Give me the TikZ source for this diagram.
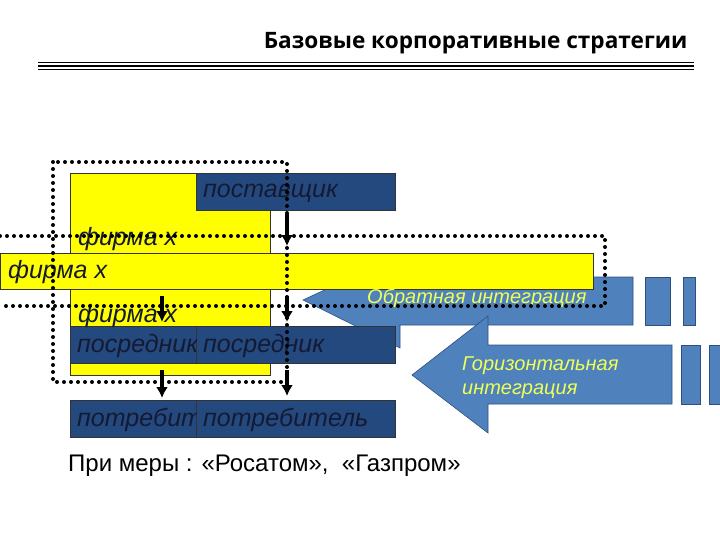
\documentclass[tikz,border=0pt]{standalone}
\usepackage{fontspec}
\usetikzlibrary{arrows.meta}
\setmainfont{Liberation Sans}
\newfontfamily\titlefont{Open Sans}
\definecolor{dkblue}{HTML}{24497E}
\definecolor{mdblue}{HTML}{4F81BD}
\definecolor{edblue}{HTML}{2F4F7F}
\definecolor{ylw}{HTML}{FFFF00}
\definecolor{ltxt}{HTML}{EEFF55}
\definecolor{dtxt}{HTML}{141A33}
\begin{document}
\begin{tikzpicture}[x=1pt,y=-1pt,
  box/.style={draw=black!80,line width=0.6pt,anchor=north west,inner sep=0pt},
  ybox/.style={box,fill=ylw},
  bbox/.style={box,fill=dkblue},
  lbl/.style={anchor=west,inner sep=0pt,font=\fontsize{25}{30}\selectfont\itshape,text=dtxt},
  albl/.style={anchor=west,inner sep=0pt,font=\fontsize{20}{24}\selectfont\itshape,text=ltxt,align=left},
  barrow/.style={fill=mdblue,draw=edblue,line width=0.6pt},
  dots/.style={line width=4pt,dash pattern=on 0pt off 7pt,line cap=round},
  darr/.style={-{Latex[length=11pt,width=12pt]},line width=4pt}]
\useasboundingbox (0,0) rectangle (720,540);
\node[anchor=east,font=\titlefont\fontsize{22.6}{27}\selectfont\bfseries] (title) at (691,43) {Базовые корпоративные стратегии};
\draw[line width=0.7pt] (38,62.5) -- (694,62.5);
\draw[line width=2.4pt] (38,65.8) -- (694,65.8);
\draw[line width=0.7pt] (38,69) -- (694,69);
% big yellow
\node[ybox,minimum width=200pt,minimum height=202pt] (big) at (70,173) {};
% arrows
\draw[barrow] (633,277) -- (400,277) -- (400,255) -- (303,300) -- (400,348) -- (400,325) -- (633,325) -- cycle;
\node[box,fill=mdblue,draw=edblue,minimum width=25pt,minimum height=48pt] (r1) at (645,277) {};
\node[box,fill=mdblue,draw=edblue,minimum width=12pt,minimum height=48pt] (r2) at (683,277) {};
\draw[barrow] (672,345) -- (488,345) -- (488,316) -- (412,375) -- (488,433) -- (488,404) -- (672,404) -- cycle;
\node[box,fill=mdblue,draw=edblue,minimum width=19pt,minimum height=59pt] (r3) at (681,345) {};
\node[box,fill=mdblue,draw=edblue,minimum width=14pt,minimum height=59pt] (r4) at (709,345) {};
\node[albl] (hlbl) at (462,378) {Горизонтальная\\интеграция};
% blue boxes
\node[bbox,minimum width=199pt,minimum height=37pt] (sup) at (196,173) {};
\node[bbox,minimum width=126pt,minimum height=37pt] (p1) at (70,326) {};
\node[bbox,minimum width=199pt,minimum height=37pt] (p2) at (196,326) {};
\node[bbox,minimum width=126pt,minimum height=37pt] (c1) at (70,400) {};
\node[bbox,minimum width=199pt,minimum height=37pt] (c2) at (196,400) {};
\node[lbl] (tsup) at (203,193) {поставщик};
\begin{scope}
\clip (70,326) rectangle (196,363);
\node[lbl] (tp1) at (77,346) {посредник};
\end{scope}
\node[lbl] (tp2) at (203,346) {посредник};
\begin{scope}
\clip (70,400) rectangle (196,437);
\node[lbl] (tc1) at (77,420) {потребитель};
\end{scope}
\node[lbl] (tc2) at (203,420) {потребитель};
\node[lbl] (f1) at (78,239) {фирма х};
\node[lbl] (f3) at (78,316) {фирма х};
% wide yellow
\node[ybox,minimum width=593pt,minimum height=36pt] (wide) at (0,253) {};
\node[lbl] (f2) at (8,272) {фирма х};
\node[albl] (olbl) at (367,298) {Обратная интеграция};
% dotted frames
\draw[dots] (53,162) rectangle (287,382);
\draw[dots] (0,236) -- (605,236) -- (605,306) -- (0,306);
% down arrows
\coordinate (a1s) at (287,214); \coordinate (a1e) at (287,246);
\coordinate (a2s) at (162,296); \coordinate (a2e) at (162,322);
\coordinate (a3s) at (287,296); \coordinate (a3e) at (287,322);
\coordinate (a4s) at (162,370); \coordinate (a4e) at (162,398);
\coordinate (a5s) at (287,370); \coordinate (a5e) at (287,396);
\foreach \s/\e in {a1s/a1e,a2s/a2e,a3s/a3e,a4s/a4e,a5s/a5e} \draw[darr] (\s) -- (\e);
\node[anchor=west,inner sep=0pt,font=\fontsize{24}{28}\selectfont] (ex) at (68,466) {При меры : «Росатом»,\ \ «Газпром»};
\end{tikzpicture}
\end{document}
